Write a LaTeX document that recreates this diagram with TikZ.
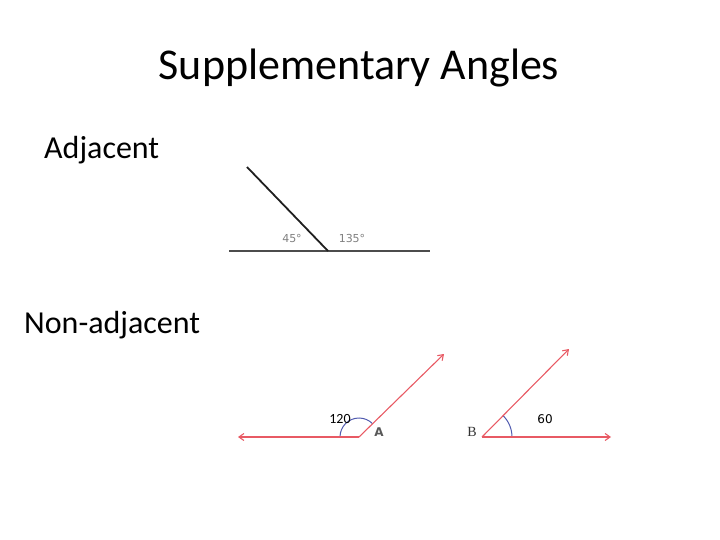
\documentclass[tikz,border=0pt]{standalone}
\usepackage{fontspec}
\setmainfont{Carlito}
\newfontfamily\smallsans{DejaVu Sans}
\newfontfamily\serifb{Liberation Serif}
\usetikzlibrary{arrows.meta}
\definecolor{ray}{RGB}{232,90,100}
\definecolor{arcblue}{RGB}{80,90,175}
\definecolor{lgray}{RGB}{90,90,90}
\tikzset{
  redray/.style={draw=ray, line width=1.1pt, -{Straight Barb[length=5pt,width=7pt]}},
  anglearc/.style={draw=arcblue, line width=1pt},
  lbl/.style={inner sep=0pt, font=\smallsans\fontsize{11}{12}\selectfont},
}
\begin{document}
\begin{tikzpicture}[x=1pt,y=-1pt]
\useasboundingbox (0,0) rectangle (720,540);
% texts
\node (title) at (359,68) {\fontsize{44}{48}\selectfont Supplementary Angles};
\node[anchor=west,inner sep=0pt] (adj) at (44,150) {\fontsize{32}{36}\selectfont Adjacent};
\node[anchor=west,inner sep=0pt] (nonadj) at (24,325) {\fontsize{32}{36}\selectfont Non-adjacent};
% adjacent angles
\coordinate (h1) at (229,251);
\coordinate (h2) at (430,251);
\coordinate (v) at (328,251);
\coordinate (s) at (247,167);
\draw[draw=black!70, line width=2.6pt] (h1) -- (h2);
\draw[draw=black!88, line width=1.8pt] (s) -- (v);
\node[lbl, text=black!50] (a45) at (292,238) {45°};
\node[lbl, text=black!50] (a135) at (352,238) {135°};
% angle A
\coordinate (A) at (359,437);
\coordinate (Aleft) at (238,437);
\coordinate (Aray) at (444,354);
\draw[anglearc] (A) ++(-19,0) arc[start angle=180, end angle=316, radius=19];
\draw[redray] (A) -- (Aleft);
\draw[redray] (A) -- (Aray);
\node[inner sep=0pt, text=black, font=\fontsize{14}{15}\selectfont] (t120) at (340,419) {120};
\node[inner sep=0pt, text=black!65, font=\smallsans\bfseries\fontsize{12}{13}\selectfont] (la) at (379,432) {A};
% angle B
\coordinate (B) at (482,437);
\coordinate (Bright) at (611,437);
\coordinate (Bray) at (569,349);
\draw[anglearc] (B) ++(30,0) arc[start angle=0, end angle=-45, radius=30];
\draw[redray] (B) -- (Bright);
\draw[redray] (B) -- (Bray);
\node[inner sep=0pt, text=black, font=\smallsans\fontsize{12}{13}\selectfont] (t60) at (545,419) {60};
\node[inner sep=0pt, text=black!80, font=\serifb\fontsize{14}{15}\selectfont] (lb) at (472,432) {B};
\end{tikzpicture}
\end{document}
